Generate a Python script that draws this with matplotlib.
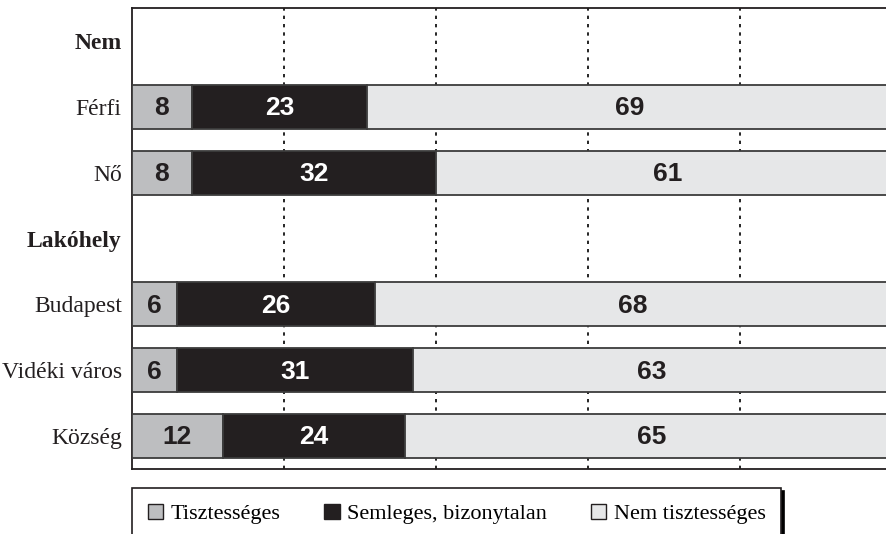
import matplotlib
matplotlib.use('Agg')
import matplotlib.pyplot as plt
from matplotlib import font_manager as fm
import numpy as np

row_labels = ['Nem', 'Férfi', 'Nő', 'Lakóhely', 'Budapest', 'Vidéki város', 'Község']
headers = ['Nem', 'Lakóhely']
groups = ['Férfi', 'Nő', 'Budapest', 'Vidéki város', 'Község']
tisztesseges = [8, 8, 6, 6, 12]
semleges = [23, 32, 26, 31, 24]
nem_tisztesseges = [69, 61, 68, 63, 65]
series_names = ['Tisztességes', 'Semleges, bizonytalan', 'Nem tisztességes']

colors = ['#bdbec0', '#231f20', '#e6e7e8']
text_colors = ['#231f20', 'white', '#231f20']
edge = '#3c3c3c'
serif = 'Liberation Serif'

# pick the regular-width Liberation Sans Bold file (not the Narrow one)
num_font = None
for f in fm.fontManager.ttflist:
    if f.fname.endswith('LiberationSans-Bold.ttf'):
        num_font = fm.FontProperties(fname=f.fname, size=19)
        break
if num_font is None:
    num_font = fm.FontProperties(family='DejaVu Sans', weight='bold', size=17)

W, H = 886, 534
fig = plt.figure(figsize=(W / 100, H / 100), dpi=100)
ax = fig.add_axes([131.5 / W, 1 - 469 / H, 760 / W, 461 / H])

y = np.array([row_labels.index(g) for g in groups])
left = np.zeros(len(groups))
for vals, col, tcol, name in zip([tisztesseges, semleges, nem_tisztesseges],
                                 colors, text_colors, series_names):
    vals = np.array(vals, dtype=float)
    ax.barh(y, vals, left=left, height=0.667, color=col, edgecolor=edge,
            linewidth=1.3, label=name, zorder=3)
    for yi, l, v in zip(y, left, vals):
        ax.text(l + v / 2, yi + 0.02, f'{int(v)}', ha='center', va='center',
                color=tcol, fontproperties=num_font, zorder=4)
    left += vals

ax.set_xlim(0, 100)
ax.set_ylim(6.5, -0.5)
for gx in [20, 40, 60, 80]:
    ax.axvline(gx, color='black', linestyle=(0, (2, 3)), linewidth=1.2, zorder=1)

ax.set_yticks(range(len(row_labels)))
ax.set_yticklabels(row_labels, family=serif, fontsize=17, color='#231f20')
for lab in ax.get_yticklabels():
    if lab.get_text() in headers:
        lab.set_fontweight('bold')
ax.tick_params(axis='y', length=0, pad=7)
ax.set_xticks([])
for s in ['left', 'top', 'bottom', 'right']:
    ax.spines[s].set_color('#231f20')
    ax.spines[s].set_linewidth(1.3)

leg = fig.legend(loc='upper left', bbox_to_anchor=(132 / W, 1 - 488 / H),
                 ncol=3, frameon=True, fancybox=False,
                 shadow={'color': 'black', 'alpha': 1},
                 prop={'family': serif, 'size': 16},
                 handlelength=0.7, handleheight=0.7, handletextpad=0.35,
                 columnspacing=1.95, borderpad=0.7, borderaxespad=0)
leg.get_frame().set_edgecolor('#231f20')
leg.get_frame().set_linewidth(1.2)
for h in leg.legend_handles:
    h.set_edgecolor('#231f20')
    h.set_linewidth(1.0)

fig.savefig('out.png', dpi=100)
